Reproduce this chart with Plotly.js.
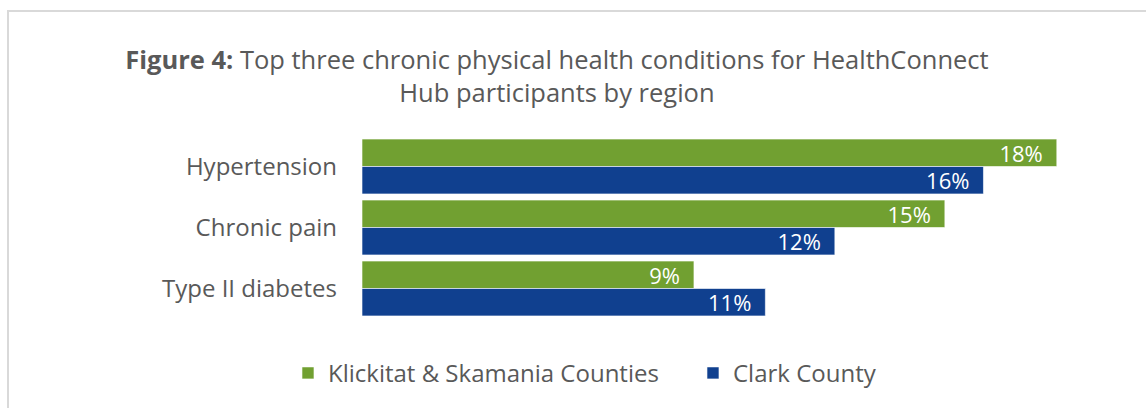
<!DOCTYPE html>
<html>
<head>
<meta charset="utf-8">
<script src="https://cdn.plot.ly/plotly-3.0.1.min.js"></script>
<style>
html,body{margin:0;padding:0;background:#fff;}
#wrap{position:relative;width:1146px;height:408px;overflow:hidden;}
#frame{position:absolute;left:7px;top:10px;width:1200px;height:500px;border-left:2px solid #d9d9d9;border-top:2px solid #d9d9d9;pointer-events:none;z-index:5;}
#chart{position:absolute;left:0;top:0;width:1146px;height:408px;}
</style>
</head>
<body>
<div id="wrap"><div id="chart"></div><div id="frame"></div></div>
<script>
const categories = ["Hypertension", "Chronic pain", "Type II diabetes"];
const seriesNames = ["Klickitat & Skamania Counties", "Clark County"];
const klickitatValues = [18.0, 15.1, 8.6];
const clarkValues = [16.1, 12.25, 10.45];
const klickitatLabels = ["18%", "15%", "9%"];
const clarkLabels = ["16%", "12%", "11%"];

const fontFam = "'Open Sans', sans-serif";
const grey = "#595959";

function barTrace(name, values, labels, color, legendId) {
  return {
    type: "bar",
    orientation: "h",
    name: name,
    legend: legendId,
    y: categories,
    x: values,
    text: labels,
    texttemplate: "%{text}\u2002",
    textposition: "inside",
    insidetextanchor: "end",
    constraintext: "none",
    textfont: {family: fontFam, size: 22, color: "#ffffff"},
    marker: {color: color, line: {color: "#ffffff", width: 0.6}},
    hoverinfo: "skip"
  };
}

const data = [
  barTrace(seriesNames[0], klickitatValues, klickitatLabels, "#71A031", "legend"),
  barTrace(seriesNames[1], clarkValues, clarkLabels, "#10408F", "legend2")
];

function legendAt(xPos) {
  return {
    orientation: "h", x: xPos, xref: "container", xanchor: "left",
    y: 0.085, yref: "container", yanchor: "middle",
    font: {family: fontFam, size: 24, color: grey},
    itemwidth: 30, bgcolor: "rgba(0,0,0,0)"
  };
}

const layout = {
  width: 1146, height: 408,
  margin: {l: 362, r: 12, t: 136, b: 89},
  paper_bgcolor: "#ffffff", plot_bgcolor: "#ffffff",
  barmode: "group",
  bargap: 0.1, bargroupgap: 0,
  showlegend: true,
  title: {
    text: "<b>Figure 4:</b> Top three chronic physical health conditions for HealthConnect<br>Hub participants by region",
    x: 0.486, xref: "container", xanchor: "center",
    y: 0.832, yref: "container", yanchor: "top",
    font: {family: fontFam, size: 25.5, color: grey}
  },
  xaxis: {
    range: [0, 20], showgrid: false, zeroline: false, showticklabels: false,
    showline: false, ticks: "", fixedrange: true
  },
  yaxis: {
    autorange: "reversed", showgrid: false, zeroline: false, showline: false,
    ticks: "", ticklabelstandoff: 24,
    tickfont: {family: fontFam, size: 24, color: grey}, fixedrange: true
  },
  legend: legendAt(0.2513),
  legend2: legendAt(0.6047)
};

Plotly.newPlot("chart", data, layout, {displayModeBar: false, staticPlot: true});
</script>
</body>
</html>
